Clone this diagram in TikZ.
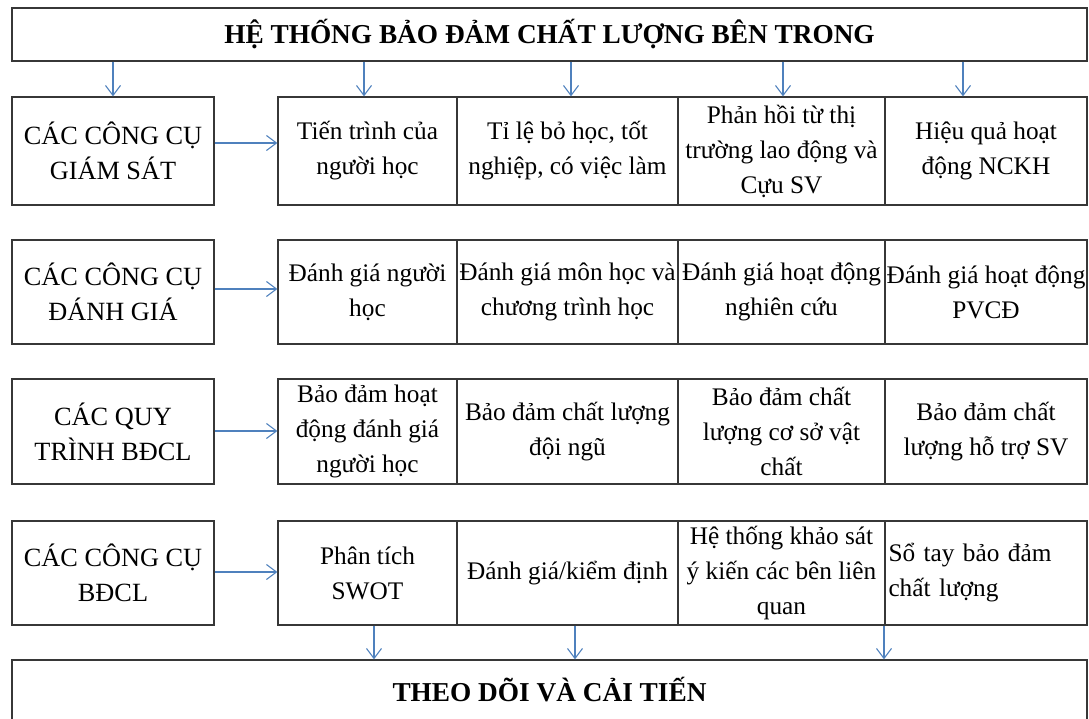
\documentclass[tikz,border=0pt]{standalone}
\usepackage{fontspec}
\setmainfont{Liberation Serif}
\usetikzlibrary{arrows.meta}
\definecolor{arrowblue}{RGB}{79,129,189}
\definecolor{boxline}{RGB}{55,55,55}
\tikzset{
  cell/.style={draw=boxline, line width=1.3pt, inner sep=0pt, align=center,
    font=\fontsize{25.3}{35}\selectfont, text=black},
  headcell/.style={cell, font=\fontsize{26.3}{35}\selectfont},
  titlebox/.style={cell, font=\fontsize{27.3}{30}\selectfont\bfseries},
  arr/.style={draw=arrowblue, line width=1.1pt, -{Straight Barb[length=10pt,width=15pt]}},
}
\begin{document}
\begin{tikzpicture}[x=1pt,y=-1pt]
\useasboundingbox (0,0) rectangle (1089,718);
% title and bottom
\node[titlebox, minimum width=1075pt, minimum height=53pt] (T) at (549.5,34.5) {HỆ THỐNG BẢO ĐẢM CHẤT LƯỢNG BÊN TRONG};
\node[titlebox, minimum width=1075pt, minimum height=60pt] (B) at (549.5,690) {THEO DÕI VÀ CẢI TIẾN};
% left column
\node[headcell, minimum width=202pt, minimum height=108pt] (L1) at (113,151) {CÁC CÔNG CỤ\\GIÁM SÁT};
\node[headcell, minimum width=202pt, minimum height=104pt] (L2) at (113,292) {CÁC CÔNG CỤ\\ĐÁNH GIÁ};
\node[headcell, minimum width=202pt, minimum height=105pt] (L3) at (113,431.5) {CÁC QUY\\TRÌNH BĐCL};
\node[headcell, minimum width=202pt, minimum height=104pt] (L4) at (113,573) {CÁC CÔNG CỤ\\BĐCL};
% row 1
\node[cell, minimum width=179pt, minimum height=108pt] (C11) at (367.5,151) {Tiến trình của\\người học};
\node[cell, minimum width=221pt, minimum height=108pt] (C12) at (567.5,151) {Tỉ lệ bỏ học, tốt\\nghiệp, có việc làm};
\node[cell, minimum width=207pt, minimum height=108pt] (C13) at (781.5,151) {Phản hồi từ thị\\trường lao động và\\Cựu SV};
\node[cell, minimum width=202pt, minimum height=108pt] (C14) at (986,151) {Hiệu quả hoạt\\động NCKH};
% row 2
\node[cell, minimum width=179pt, minimum height=104pt] (C21) at (367.5,292) {Đánh giá người\\học};
\node[cell, minimum width=221pt, minimum height=104pt] (C22) at (567.5,292) {Đánh giá môn học và\\chương trình học};
\node[cell, minimum width=207pt, minimum height=104pt] (C23) at (781.5,292) {Đánh giá hoạt động\\nghiên cứu};
\node[cell, minimum width=202pt, minimum height=104pt] (C24) at (986,292) {Đánh giá hoạt động\\PVCĐ};
% row 3
\node[cell, minimum width=179pt, minimum height=105pt] (C31) at (367.5,431.5) {Bảo đảm hoạt\\động đánh giá\\người học};
\node[cell, minimum width=221pt, minimum height=105pt] (C32) at (567.5,431.5) {Bảo đảm chất lượng\\đội ngũ};
\node[cell, minimum width=207pt, minimum height=105pt] (C33) at (781.5,431.5) {Bảo đảm chất\\lượng cơ sở vật\\chất};
\node[cell, minimum width=202pt, minimum height=105pt] (C34) at (986,431.5) {Bảo đảm chất\\lượng hỗ trợ SV};
% row 4
\node[cell, minimum width=179pt, minimum height=104pt] (C41) at (367.5,573) {Phân tích\\SWOT};
\node[cell, minimum width=221pt, minimum height=104pt] (C42) at (567.5,573) {Đánh giá/kiểm định};
\node[cell, minimum width=207pt, minimum height=104pt] (C43) at (781.5,573) {Hệ thống khảo sát\\ý kiến các bên liên\\quan};
\node[cell, align=left, text width=195pt, inner xsep=3.5pt, minimum height=104pt] (C44) at (986,573) {Sổ tay bảo đảm\\chất lượng};
% arrows from title
\draw[arr] (T.south -| L1.north) -- (L1.north);
\draw[arr] (T.south -| 364,0) -- (C11.north -| 364,0);
\draw[arr] (T.south -| 571,0) -- (C12.north -| 571,0);
\draw[arr] (T.south -| 783,0) -- (C13.north -| 783,0);
\draw[arr] (T.south -| 963,0) -- (C14.north -| 963,0);
% horizontal arrows
\draw[arr] (L1.east |- 0,143) -- (C11.west |- 0,143);
\draw[arr] (L2.east |- 0,289) -- (C21.west |- 0,289);
\draw[arr] (L3.east |- 0,431) -- (C31.west |- 0,431);
\draw[arr] (L4.east |- 0,572) -- (C41.west |- 0,572);
% arrows to bottom
\draw[arr] (C41.south -| 374,0) -- (B.north -| 374,0);
\draw[arr] (C42.south -| 575,0) -- (B.north -| 575,0);
\draw[arr] (C43.south -| 884,0) -- (B.north -| 884,0);
\end{tikzpicture}
\end{document}
